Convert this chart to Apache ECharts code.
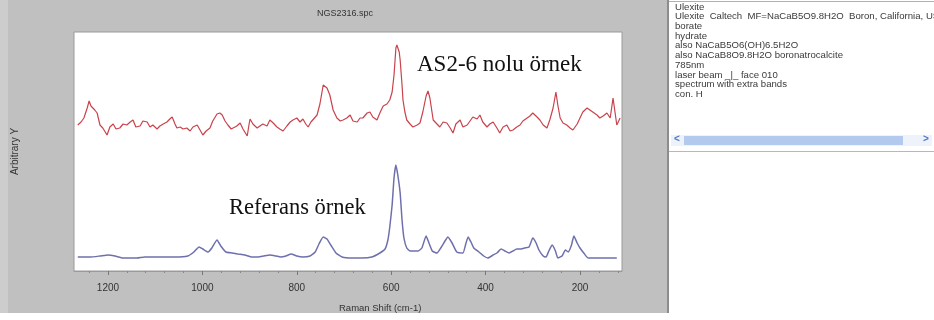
<!DOCTYPE html>
<html>
<head>
<meta charset="utf-8">
<script src="https://cdn.jsdelivr.net/npm/echarts@6/dist/echarts.min.js"></script>
<style>
  html, body { margin: 0; padding: 0; background: #fff; }
  #chart { width: 934px; height: 320px; }
</style>
</head>
<body>
<div id="chart"></div>
<script>
// Raman shift (cm-1) and intensity (arbitrary units) of the measured sample
const sampleShift = [1264,1257,1251,1244,1240,1236,1232,1228,1223,1217,1211,1202,1196,1189,1183,1175,1168,1160,1153,1147,1141,1132,1126,1117,1111,1105,1096,1090,1083,1075,1069,1064,1058,1054,1047,1041,1033,1026,1020,1011,1005,999,992,984,978,969,963,958,952,946,939,935,927,920,914,905,901,899,893,884,878,872,863,857,850,842,836,829,821,814,808,800,793,787,781,776,770,766,757,751,744,740,736,730,723,715,708,702,694,687,681,672,666,660,651,645,639,630,624,617,609,603,598,594,590,588,583,581,577,575,571,567,560,554,545,539,533,526,522,518,511,503,497,490,482,475,469,463,454,448,439,433,427,418,412,406,397,391,384,376,370,363,355,348,342,334,327,321,312,306,300,291,285,278,270,264,257,251,247,242,236,228,221,215,206,200,194,185,179,173,164,158,151,143,136,130,126,122,115];
const sampleIntensity = [146,149,153,163,170,165,167,161,158,146,143,136,144,147,142,143,147,146,149,151,144,145,150,149,144,146,142,145,147,149,152,154,147,143,144,142,143,140,144,146,141,136,140,143,150,157,158,156,150,146,142,141,145,148,142,135,147,152,147,143,145,147,145,151,148,144,142,140,145,149,151,153,149,152,147,144,149,151,156,167,186,184,183,176,161,153,150,151,153,156,150,149,153,153,158,159,154,151,158,165,167,171,179,196,223,226,219,211,186,171,159,151,147,144,146,148,159,175,180,173,151,147,144,149,148,143,138,147,151,144,146,150,154,152,156,149,144,147,149,143,138,144,146,140,141,144,146,150,153,155,158,154,151,146,143,151,163,179,166,153,148,146,143,141,147,153,159,163,161,159,156,153,155,158,153,173,171,146,153];

// Reference spectrum (Ulexite)
const referenceShift = [1264,1238,1217,1200,1185,1168,1153,1139,1122,1090,1058,1031,1018,1007,999,988,980,969,961,950,937,925,910,895,882,870,857,844,834,823,812,800,787,772,761,753,744,736,728,717,704,683,662,641,624,613,607,603,598,594,590,586,581,577,573,567,560,552,543,535,526,520,513,503,495,486,480,471,461,448,442,437,431,425,414,404,395,384,376,367,359,350,342,334,325,317,308,300,293,287,278,272,266,259,252,247,238,231,225,218,213,206,200,192,183,158,122];
const referenceIntensity = [14,14,15,16,15,13,13,13,14,14,14,15,19,24,22,19,23,31,25,19,18,17,16,14,14,15,16,15,14,15,17,15,14,15,19,27,34,32,26,18,14,13,13,14,18,22,31,44,66,93,106,96,78,51,33,23,20,20,20,23,35,28,20,18,23,30,34,28,19,18,27,34,29,23,19,15,13,16,18,22,20,18,20,22,22,23,24,33,28,21,15,14,20,26,20,13,15,21,19,26,35,28,23,18,13,13,13];

const majorTicks = [1200, 1000, 800, 600, 400, 200];
const minorTicks = [1240,1160,1120,1080,1040,960,920,880,840,760,720,680,640,560,520,480,440,360,320,280,240,160,120];

const infoLines = [
  'Ulexite',
  'Ulexite  Caltech  MF=NaCaB5O9.8H2O  Boron, California, USA',
  'borate',
  'hydrate',
  'also NaCaB5O6(OH)6.5H2O',
  'also NaCaB8O9.8H2O boronatrocalcite',
  '785nm',
  'laser beam _|_ face 010',
  'spectrum with extra bands',
  'con. H'
];

const pairs = (xs, ys) => xs.map((x, i) => [x, ys[i]]);

const chart = echarts.init(document.getElementById('chart'), null, { renderer: 'canvas' });

const infoText = infoLines.map((line, i) => ({
  type: 'text',
  left: 675,
  top: 2 + i * 9.7,
  silent: true,
  style: { text: line, fill: '#3a3a3a', font: '9.6px "Liberation Sans", Arial, sans-serif' }
}));

const option = {
  backgroundColor: '#c0c0c0',
  animation: false,
  title: {
    text: 'NGS2316.spc',
    left: 312,
    top: 4,
    textStyle: { fontSize: 9, fontWeight: 'normal', color: '#333', fontFamily: '"Liberation Sans", Arial, sans-serif' }
  },
  grid: {
    left: 74, top: 32, width: 548, height: 239,
    show: true, backgroundColor: '#ffffff', borderColor: '#9a9a9a', borderWidth: 1
  },
  xAxis: [
    {
      type: 'value', inverse: true, min: 111, max: 1272,
      axisLine: { show: true, onZero: false, lineStyle: { color: '#9a9a9a' } },
      axisTick: { show: true, customValues: majorTicks, length: 4, lineStyle: { color: '#777' } },
      axisLabel: {
        customValues: majorTicks, margin: 12, fontSize: 10, color: '#333',
        fontFamily: '"Liberation Sans", Arial, sans-serif',
        formatter: (v) => String(v)
      },
      splitLine: { show: false }
    },
    {
      type: 'value', inverse: true, min: 111, max: 1272, position: 'bottom',
      axisLine: { show: false },
      axisTick: { show: true, customValues: minorTicks, length: 2, lineStyle: { color: '#888' } },
      axisLabel: { show: false },
      splitLine: { show: false }
    }
  ],
  yAxis: {
    type: 'value', min: 0, max: 239,
    name: 'Arbitrary Y', nameLocation: 'middle', nameGap: 54,
    nameTextStyle: { fontSize: 10, color: '#333', fontFamily: '"Liberation Sans", Arial, sans-serif' },
    axisLine: { show: false }, axisTick: { show: false }, axisLabel: { show: false }, splitLine: { show: false }
  },
  series: [
    {
      name: 'AS2-6', type: 'line', xAxisIndex: 0, showSymbol: false,
      data: pairs(sampleShift, sampleIntensity),
      lineStyle: { color: '#c9424c', width: 1.2 }
    },
    {
      name: 'Referans', type: 'line', xAxisIndex: 0, showSymbol: false, smooth: 0.15,
      data: pairs(referenceShift, referenceIntensity),
      lineStyle: { color: '#6e70ad', width: 1.5 }
    }
  ],
  graphic: [
    // light strip on the far left and white area along the bottom
    { type: 'rect', left: 0, top: 0, shape: { width: 8, height: 313 }, style: { fill: '#cdcdcd' }, silent: true },
    { type: 'rect', left: 0, top: 313, shape: { width: 934, height: 7 }, style: { fill: '#ffffff' }, silent: true },
    // info panel on the right
    { type: 'rect', left: 667, top: 0, shape: { width: 267, height: 320 }, style: { fill: '#ffffff' }, silent: true },
    { type: 'rect', left: 667, top: 0, shape: { width: 2, height: 313 }, style: { fill: '#8c8c8c' }, silent: true },
    { type: 'rect', left: 669, top: 1, shape: { width: 265, height: 1 }, style: { fill: '#b0b0b0' }, silent: true },
    { type: 'rect', left: 669, top: 151, shape: { width: 265, height: 1 }, style: { fill: '#b8b8b8' }, silent: true },
    // horizontal scrollbar
    { type: 'rect', left: 671, top: 135, shape: { width: 261, height: 11 }, style: { fill: '#eef3fb' }, silent: true },
    { type: 'rect', left: 684, top: 136, shape: { width: 219, height: 9 }, style: { fill: '#b3c9ee' }, silent: true },
    { type: 'text', left: 674, top: 134, style: { text: '<', fill: '#4f78c8', font: 'bold 10px "Liberation Sans", Arial, sans-serif' }, silent: true },
    { type: 'text', left: 923, top: 134, style: { text: '>', fill: '#4f78c8', font: 'bold 10px "Liberation Sans", Arial, sans-serif' }, silent: true },
    ...infoText,
    // sample annotations
    { type: 'text', left: 417, top: 53, style: { text: 'AS2-6 nolu örnek', fill: '#111', font: '23px "Liberation Serif", "Times New Roman", serif' }, silent: true },
    { type: 'text', left: 229, top: 197, style: { text: 'Referans örnek', fill: '#111', font: '22.5px "Liberation Serif", "Times New Roman", serif' }, silent: true },
    // x axis caption
    { type: 'text', left: 339, top: 303, style: { text: 'Raman Shift (cm-1)', fill: '#333', font: '9.5px "Liberation Sans", Arial, sans-serif' }, silent: true }
  ]
};

chart.setOption(option);
</script>
</body>
</html>
